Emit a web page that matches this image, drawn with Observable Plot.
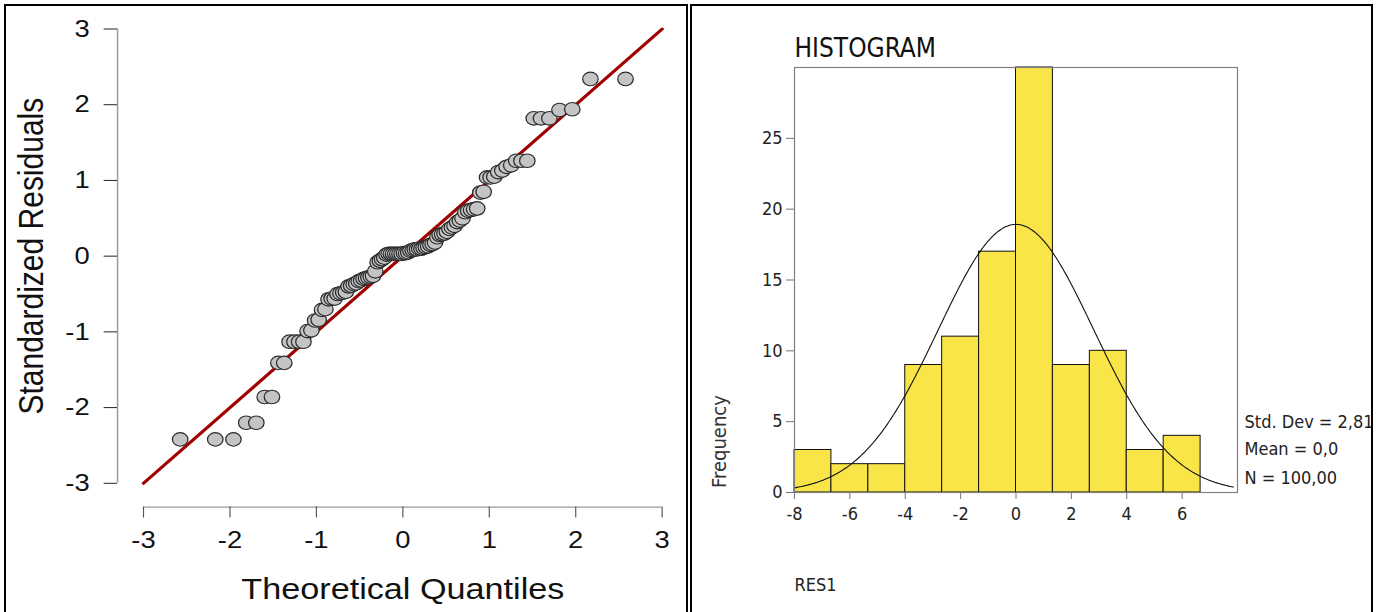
<!DOCTYPE html>
<html>
<head>
<meta charset="utf-8">
<script src="https://cdn.jsdelivr.net/npm/d3@7"></script>
<script src="https://cdn.jsdelivr.net/npm/@observablehq/plot@0.6"></script>
<style>
  html, body { margin: 0; padding: 0; background: #fff; }
  #wrap { position: relative; width: 1384px; height: 612px; overflow: hidden; background: #fff; }
  #qq { position: absolute; left: 0; top: 0; width: 603.5px; height: 612px; transform: scaleX(1.14); transform-origin: 0 0; }
  #hist { position: absolute; left: 690px; top: 0; width: 694px; height: 612px; }
  #qq svg, #hist svg { display: block; }
  .box { position: absolute; top: 4px; height: 640px; border: 2px solid #000; box-sizing: border-box; pointer-events: none; z-index: 5; }
</style>
</head>
<body>
<div id="wrap">
  <div id="qq"></div>
  <div id="hist"></div>
  <div class="box" style="left:4px;width:684px;"></div>
  <div class="box" style="left:690px;width:683px;"></div>
</div>
<script>
// ---------- Q-Q plot data ----------
const qqTicks = [-3, -2, -1, 0, 1, 2, 3];
const qqXLabel = "Theoretical Quantiles";
const qqYLabel = "Standardized Residuals";
const refLineX = [-3, 3];
const refLineY = [-3, 3];
const qqX = [
  -2.576, -2.170, -1.960, -1.812, -1.695, -1.598, -1.514, -1.440, -1.372, -1.311,
  -1.254, -1.200, -1.150, -1.103, -1.058, -1.015, -0.974, -0.935, -0.896, -0.860,
  -0.824, -0.789, -0.755, -0.722, -0.690, -0.659, -0.628, -0.598, -0.568, -0.539,
  -0.510, -0.482, -0.454, -0.426, -0.399, -0.372, -0.345, -0.319, -0.292, -0.266,
  -0.240, -0.215, -0.189, -0.164, -0.138, -0.113, -0.088, -0.063, -0.038, -0.013,
   0.013,  0.038,  0.063,  0.088,  0.113,  0.138,  0.164,  0.189,  0.215,  0.240,
   0.266,  0.292,  0.319,  0.345,  0.372,  0.399,  0.426,  0.454,  0.482,  0.510,
   0.539,  0.568,  0.598,  0.628,  0.659,  0.690,  0.722,  0.755,  0.789,  0.824,
   0.860,  0.896,  0.935,  0.974,  1.015,  1.058,  1.103,  1.150,  1.200,  1.254,
   1.311,  1.372,  1.440,  1.514,  1.598,  1.695,  1.812,  1.960,  2.170,  2.576
];
const qqY = [
  -2.42, -2.42, -2.42, -2.20, -2.20, -1.86, -1.86, -1.41, -1.41, -1.13,
  -1.13, -1.13, -1.13, -0.99, -0.98, -0.85, -0.84, -0.71, -0.70, -0.57,
  -0.56, -0.56, -0.50, -0.49, -0.48, -0.47, -0.40, -0.39, -0.37, -0.36,
  -0.33, -0.32, -0.30, -0.29, -0.28, -0.27, -0.26, -0.20, -0.08, -0.06,
  -0.04, -0.02,  0.02,  0.03,  0.03,  0.03,  0.03,  0.03,  0.03,  0.03,
   0.04,  0.04,  0.05,  0.07,  0.08,  0.09,  0.09,  0.10,  0.10,  0.11,
   0.12,  0.13,  0.15,  0.16,  0.18,  0.25,  0.28,  0.29,  0.30,  0.32,
   0.36,  0.38,  0.40,  0.45,  0.47,  0.50,  0.58,  0.60,  0.61,  0.62,
   0.63,  0.84,  0.85,  1.04,  1.04,  1.05,  1.11,  1.13,  1.18,  1.20,
   1.26,  1.26,  1.26,  1.82,  1.82,  1.82,  1.93,  1.94,  2.34,  2.34
];

// ---------- Histogram data ----------
const histTitle = "HISTOGRAM";
const histXLabel = "RES1";
const histYLabel = "Frequency";
const binLo = [-8, -6.667, -5.333, -4, -2.667, -1.333, 0, 1.333, 2.667, 4, 5.333];
const binHi = [-6.667, -5.333, -4, -2.667, -1.333, 0, 1.333, 2.667, 4, 5.333, 6.667];
const counts = [3, 2, 2, 9, 11, 17, 30, 9, 10, 3, 4];
const histXTicks = [-8, -6, -4, -2, 0, 2, 4, 6];
const histYTicks = [0, 5, 10, 15, 20, 25];
const histMean = 0, histSD = 2.81, histN = 100;
const statLines = ["Std. Dev = 2,81", "Mean = 0,0", "N = 100,00"];

// ---------- Q-Q plot ----------
const qq = Plot.plot({
  width: 603.5, height: 612,
  marginLeft: 125.4, marginRight: 23.15, marginTop: 28.5, marginBottom: 129.2,
  x: {domain: [-3, 3]},
  y: {domain: [-3, 3]},
  style: {fontFamily: "'Liberation Sans', Arial, Helvetica, sans-serif", fontSize: "24px", color: "#111", background: "transparent", overflow: "visible"},
  marks: [
    Plot.ruleX([-3], {y1: -3, y2: 3, dx: -22.8, stroke: "#9a9a9a", strokeWidth: 1.3}),
    Plot.ruleY([-3], {x1: -3, x2: 3, dy: 23.8, stroke: "#9a9a9a", strokeWidth: 1.3}),
    Plot.axisY(qqTicks, {anchor: "left", tickSize: 11.7, tickPadding: 12.8, dx: -22.8, stroke: "#222", fontSize: 24, label: null, tickFormat: d => String(d)}),
    Plot.axisX(qqTicks, {anchor: "bottom", tickSize: 11, tickPadding: 12.5, dy: 23.8, stroke: "#555", fontSize: 24, label: null, tickFormat: d => String(d)}),
    Plot.line(refLineX, {x: refLineX, y: refLineY, stroke: "#a00000", strokeWidth: 3}),
    Plot.dot(qqY, {x: qqX, y: qqY, r: 6.8, fill: "#c4c4c4", stroke: "#2a2a2a", strokeWidth: 1.1}),
    Plot.text([qqXLabel], {frameAnchor: "bottom", textAnchor: "middle", lineAnchor: "top", dy: 93.9, fontSize: 30, fill: "#111"}),
    Plot.text([qqYLabel], {frameAnchor: "left", rotate: -90, textAnchor: "middle", lineAnchor: "middle", dx: -97.8, fontSize: 30, fill: "#111"})
  ]
});
document.getElementById("qq").appendChild(qq);

// ---------- Histogram ----------
const binWidth = binHi[0] - binLo[0];
const curveX = d3.range(-8, 7.86, 0.05);
const curveY = curveX.map(x => histN * binWidth / (histSD * Math.sqrt(2 * Math.PI)) * Math.exp(-0.5 * ((x - histMean) / histSD) ** 2));

const hist = Plot.plot({
  width: 694, height: 612,
  marginLeft: 104, marginRight: 147, marginTop: 67, marginBottom: 120,
  x: {domain: [-8, 8]},
  y: {domain: [0, 30]},
  style: {fontFamily: "'DejaVu Sans Condensed', 'DejaVu Sans', sans-serif", fontStretch: "condensed", fontSize: "18px", color: "#222", background: "transparent", overflow: "visible"},
  marks: [
    Plot.rect(counts, {x1: binLo, x2: binHi, y1: 0, y2: counts, fill: "#f9e547", stroke: "#111", strokeWidth: 1}),
    Plot.line(curveX, {x: curveX, y: curveY, stroke: "#111", strokeWidth: 1.1}),
    Plot.frame({stroke: "#808080", strokeWidth: 1.2}),
    Plot.axisY(histYTicks, {anchor: "left", tickSize: 8, tickPadding: 4, stroke: "#777", fontSize: 18, label: null, tickFormat: d => String(d)}),
    Plot.axisX(histXTicks, {anchor: "bottom", tickSize: 7, tickPadding: 8, stroke: "#777", fontSize: 18, label: null, tickFormat: d => String(d)}),
    Plot.text([histTitle], {frameAnchor: "top-left", textAnchor: "start", lineAnchor: "middle", dy: -18.7, fontSize: 26, fill: "#111"}),
    Plot.text([histYLabel], {frameAnchor: "left", rotate: -90, textAnchor: "middle", lineAnchor: "middle", dx: -75.3, dy: 161.5, fontSize: 20, fill: "#333"}),
    Plot.text([histXLabel], {frameAnchor: "bottom-left", textAnchor: "start", lineAnchor: "middle", dy: 92.6, fontSize: 18, fill: "#222"}),
    Plot.text([statLines[0]], {frameAnchor: "bottom-right", textAnchor: "start", lineAnchor: "middle", dx: 7, dy: -69.8, fontSize: 18, fill: "#222"}),
    Plot.text([statLines[1]], {frameAnchor: "bottom-right", textAnchor: "start", lineAnchor: "middle", dx: 7, dy: -42.8, fontSize: 18, fill: "#222"}),
    Plot.text([statLines[2]], {frameAnchor: "bottom-right", textAnchor: "start", lineAnchor: "middle", dx: 7, dy: -14.5, fontSize: 18, fill: "#222"})
  ]
});
document.getElementById("hist").appendChild(hist);
</script>
</body>
</html>
